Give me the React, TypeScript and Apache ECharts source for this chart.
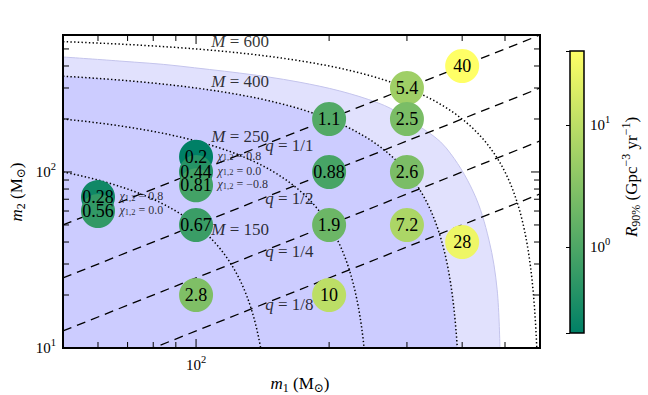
import React, { useEffect, useRef } from 'react';
import * as echarts from 'echarts';

// ---- data ----
const bubbleM1 = [60, 60, 100, 100, 100, 100, 100, 200, 200, 200, 200, 300, 300, 300, 300, 400, 400];
const bubbleM2 = [72, 60, 122, 100, 84, 50, 20, 200, 100, 50, 20, 300, 200, 100, 50, 400, 40];
const bubbleRate = [0.28, 0.56, 0.2, 0.44, 0.81, 0.67, 2.8, 1.1, 0.88, 1.9, 10, 5.4, 2.5, 2.6, 7.2, 40, 28];

const spinM1 = [60, 60, 100, 100, 100];
const spinM2 = [72, 60, 122, 100, 84];
const spinValues = ['0.8', '0.0', '0.8', '0.0', '−0.8'];

const totalMasses = [150, 250, 400, 600];
const shadedMass = 400;
const massRatios = [1, 1 / 2, 1 / 4, 1 / 8];
const massRatioLabels = ['1/1', '1/2', '1/4', '1/8'];

const outerM1 = [50, 67, 91.5, 171, 259, 324, 368, 424, 460, 480, 487];
const outerM2 = [450, 427, 400, 324, 246, 178, 137, 77, 41, 21.4, 10];

const xRange = [50, 600];
const yRange = [10, 600];
const rateRange = [0.2, 40];

const xMajorTicks = [100];
const xMinorTicks = [60, 70, 80, 90, 200, 300, 400, 500];
const yMajorTicks = [100];
const yMinorTicks = [20, 30, 40, 50, 60, 70, 80, 90, 200, 300, 400, 500];

const cmapLow = '#008066';
const cmapHigh = '#ffff66';

// label anchors (in m1)
const massLabelM1 = 108;
const ratioLabelM1 = 143;

const FONT = '"Liberation Serif", "DejaVu Serif", serif';

function rich(size: number) {
  const lh = Math.round(size * 1.3);
  const s = Math.round(size * 0.7);
  return {
    r: { fontFamily: FONT, fontSize: size, lineHeight: lh, color: '#000' },
    i: { fontFamily: FONT, fontSize: size, lineHeight: lh, fontStyle: 'italic', color: '#000' },
    sub: { fontFamily: FONT, fontSize: s, lineHeight: s, verticalAlign: 'bottom', color: '#000' },
    sup: { fontFamily: FONT, fontSize: s, lineHeight: s, verticalAlign: 'top', color: '#000' },
  };
}

const tickRich = {
  b: { fontFamily: FONT, fontSize: 15, lineHeight: 22, color: '#000' },
  s: { fontFamily: FONT, fontSize: 10.5, lineHeight: 10, verticalAlign: 'top', color: '#000' },
};

function powLabel(v: number) {
  const e = Math.log10(v);
  const r = Math.round(e);
  return Math.abs(e - r) < 1e-6 ? '{b|10}{s|' + r + '}' : '';
}

function massCurve(M: number): number[][] {
  const pts: number[][] = [];
  const half = M / 2;
  const n = 40;
  for (let i = 0; i <= n; i++) {
    const m1 = xRange[0] * Math.pow(half / xRange[0], i / n);
    pts.push([m1, M - m1]);
  }
  for (let j = 1; j <= n; j++) {
    const m2 = half * Math.pow(yRange[0] / half, j / n);
    pts.push([M - m2, m2]);
  }
  return pts;
}

function buildOption() {
  const hiddenAxisBits = {
    axisLine: { show: false },
    axisTick: { show: false },
    splitLine: { show: false },
  };
  const series: any[] = [];

  series.push({
    type: 'line',
    silent: true,
    z: 1,
    data: outerM1.map((m, i) => [m, outerM2[i]]),
    symbol: 'none',
    smooth: 0.35,
    lineStyle: { color: '#c4c4ec', width: 1 },
    areaStyle: { color: '#e1e1fd', opacity: 1, origin: 'start' },
  });
  series.push({
    type: 'line',
    silent: true,
    z: 1,
    data: massCurve(shadedMass),
    symbol: 'none',
    lineStyle: { width: 0 },
    areaStyle: { color: '#ccccff', opacity: 1, origin: 'start' },
  });
  totalMasses.forEach((M) => {
    series.push({
      type: 'line',
      silent: true,
      z: 2,
      data: massCurve(M),
      symbol: 'none',
      lineStyle: { type: [1.4, 2.3], width: 1.5, color: '#000' },
    });
  });
  massRatios.forEach((q) => {
    series.push({
      type: 'line',
      silent: true,
      z: 2,
      data: [
        [xRange[0], xRange[0] * q],
        [xRange[1], xRange[1] * q],
      ],
      symbol: 'none',
      lineStyle: { type: [9, 6], width: 1.3, color: '#000' },
    });
  });
  const bubbleIndex = series.length;
  series.push({
    type: 'scatter',
    z: 3,
    symbolSize: 34,
    data: bubbleM1.map((m1, i) => [m1, bubbleM2[i], bubbleRate[i], Math.log10(bubbleRate[i])]),
    itemStyle: { opacity: 1 },
    emphasis: { disabled: true },
    label: {
      show: true,
      position: 'inside',
      formatter: (p: any) => String(p.value[2]),
      fontFamily: FONT,
      fontSize: 18,
      lineHeight: 12,
      color: '#000',
    },
  });
  series.push({
    type: 'scatter',
    silent: true,
    z: 4,
    symbolSize: 1,
    itemStyle: { color: 'rgba(0,0,0,0)' },
    data: totalMasses.map((M) => ({ value: [massLabelM1, M - massLabelM1], name: String(M) })),
    label: {
      show: true,
      position: 'right',
      distance: 0,
      offset: [0, -9],
      formatter: (p: any) => '{i|M}{r| = ' + p.name + '}',
      rich: rich(17),
    },
  });
  series.push({
    type: 'scatter',
    silent: true,
    z: 4,
    symbolSize: 1,
    itemStyle: { color: 'rgba(0,0,0,0)' },
    data: massRatios.map((q, i) => ({ value: [ratioLabelM1, ratioLabelM1 * q], name: massRatioLabels[i] })),
    label: {
      show: true,
      position: 'right',
      distance: 0,
      offset: [0, 1],
      formatter: (p: any) => '{i|q}{r| = ' + p.name + '}',
      rich: rich(17),
    },
  });
  series.push({
    type: 'scatter',
    silent: true,
    z: 4,
    symbolSize: 1,
    itemStyle: { color: 'rgba(0,0,0,0)' },
    data: spinM1.map((m1, i) => ({ value: [m1, spinM2[i]], name: spinValues[i] })),
    label: {
      show: true,
      position: 'right',
      distance: 21,
      offset: [0, -1],
      formatter: (p: any) => '{i|χ}{sub|1,2}{r| = ' + p.name + '}',
      rich: {
        r: { fontFamily: FONT, fontSize: 12, lineHeight: 12, color: '#000' },
        i: { fontFamily: FONT, fontSize: 12, lineHeight: 12, fontStyle: 'italic', color: '#000' },
        sub: { fontFamily: FONT, fontSize: 8.5, lineHeight: 6, verticalAlign: 'bottom', color: '#000' },
      },
    },
  });
  series.push({
    type: 'custom',
    silent: true,
    z: 10,
    clip: false,
    dimensions: ['x', 'y', 'axis', 'major'],
    encode: { x: 0, y: 1 },
    data: [
      ...xMajorTicks.map((v) => [v, 100, 0, 1]),
      ...xMinorTicks.map((v) => [v, 100, 0, 0]),
      ...yMajorTicks.map((v) => [100, v, 1, 1]),
      ...yMinorTicks.map((v) => [100, v, 1, 0]),
      [100, 100, 2, 0],
    ],
    renderItem: (params: any, api: any) => {
      const cs = params.coordSys;
      const axis = api.value(2);
      const len = api.value(3) ? 9 : 6;
      const style = { stroke: '#000', lineWidth: 1 };
      if (axis === 0) {
        const x = api.coord([api.value(0), 100])[0];
        return {
          type: 'group',
          children: [
            { type: 'line', shape: { x1: x, y1: cs.y + cs.height, x2: x, y2: cs.y + cs.height - len }, style },
            { type: 'line', shape: { x1: x, y1: cs.y, x2: x, y2: cs.y + len }, style },
          ],
        };
      }
      if (axis === 1) {
        const y = api.coord([100, api.value(1)])[1];
        return {
          type: 'group',
          children: [
            { type: 'line', shape: { x1: cs.x, y1: y, x2: cs.x + len, y2: y }, style },
            { type: 'line', shape: { x1: cs.x + cs.width, y1: y, x2: cs.x + cs.width - len, y2: y }, style },
          ],
        };
      }
      return {
        type: 'rect',
        shape: { x: cs.x, y: cs.y, width: cs.width, height: cs.height },
        style: { fill: 'none', stroke: '#000', lineWidth: 2 },
      };
    },
  });
  series.push({
    type: 'custom',
    silent: true,
    z: 1,
    xAxisIndex: 1,
    yAxisIndex: 1,
    clip: false,
    data: [[0.5, 1]],
    renderItem: (params: any) => {
      const cs = params.coordSys;
      return {
        type: 'rect',
        shape: { x: cs.x, y: cs.y, width: cs.width, height: cs.height },
        style: {
          fill: new echarts.graphic.LinearGradient(0, 0, 0, 1, [
            { offset: 0, color: cmapHigh },
            { offset: 1, color: cmapLow },
          ]),
          stroke: '#000',
          lineWidth: 1.5,
        },
      };
    },
  });

  return {
    animation: false,
    backgroundColor: '#fff',
    grid: [
      { left: 63, top: 35, width: 477, height: 313 },
      { left: 570, top: 51, width: 14, height: 282 },
    ],
    xAxis: [
      {
        type: 'log',
        logBase: 10,
        gridIndex: 0,
        min: xRange[0],
        max: xRange[1],
        ...hiddenAxisBits,
        axisLabel: { formatter: powLabel, rich: tickRich, margin: 6 },
      },
      { type: 'value', gridIndex: 1, min: 0, max: 1, show: false },
    ],
    yAxis: [
      {
        type: 'log',
        logBase: 10,
        gridIndex: 0,
        min: yRange[0],
        max: yRange[1],
        ...hiddenAxisBits,
        axisLabel: { formatter: powLabel, rich: tickRich, margin: 7 },
      },
      {
        type: 'log',
        logBase: 10,
        gridIndex: 1,
        min: rateRange[0],
        max: rateRange[1],
        position: 'right',
        z: 5,
        axisLine: { show: false },
        splitLine: { show: false },
        axisTick: { show: true, inside: true, length: 4, lineStyle: { color: '#000', width: 1 } },
        axisLabel: { formatter: powLabel, rich: tickRich, margin: 6 },
      },
    ],
    visualMap: [
      {
        type: 'continuous',
        show: false,
        seriesIndex: bubbleIndex,
        dimension: 3,
        min: Math.log10(rateRange[0]),
        max: Math.log10(rateRange[1]),
        inRange: { color: [cmapLow, cmapHigh] },
      },
    ],
    graphic: [
      {
        type: 'text',
        x: 300,
        y: 383,
        style: {
          text: '{i|m}{sub|1}{r| (M}{sub|⊙}{r|)}',
          rich: rich(17),
          fontFamily: FONT,
          fontSize: 17,
          align: 'center',
          verticalAlign: 'middle',
        },
      },
      {
        type: 'text',
        x: 16,
        y: 192,
        rotation: Math.PI / 2,
        style: {
          text: '{i|m}{sub|2}{r| (M}{sub|⊙}{r|)}',
          rich: rich(17),
          fontFamily: FONT,
          fontSize: 17,
          align: 'center',
          verticalAlign: 'middle',
        },
      },
      {
        type: 'text',
        x: 631,
        y: 177,
        rotation: Math.PI / 2,
        style: {
          text: '{i|R}{sub|90%}{r| (Gpc}{sup|−3}{r| yr}{sup|−1}{r|)}',
          rich: rich(17),
          fontFamily: FONT,
          fontSize: 17,
          align: 'center',
          verticalAlign: 'middle',
        },
      },
    ],
    series,
  };
}

export default function App() {
  const ref = useRef<HTMLDivElement>(null);
  useEffect(() => {
    if (!ref.current) return;
    const chart = echarts.init(ref.current, undefined, { renderer: 'svg' });
    chart.setOption(buildOption() as any);
    return () => chart.dispose();
  }, []);
  return <div ref={ref} style={{ position: 'fixed', left: 0, top: 0, width: 648, height: 395 }} />;
}
